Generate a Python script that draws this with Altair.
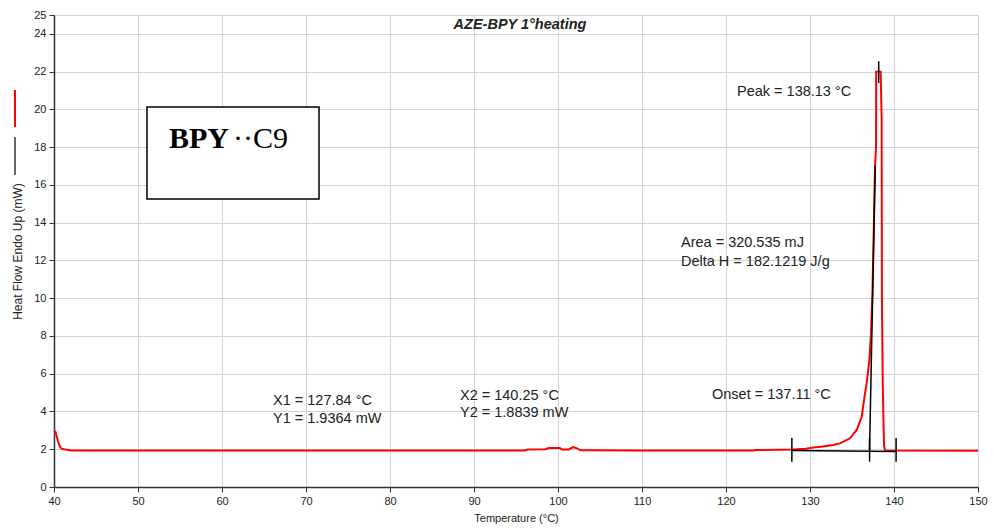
import altair as alt
import pandas as pd

# ---- data ----
temp = [40.0, 40.2, 40.45, 40.7, 40.9, 41.3, 41.6, 42.0, 60.0, 80.0, 96.0, 96.4, 98.5, 98.9,
        100.2, 100.5, 101.3, 101.8, 102.2, 102.7, 110.0, 123.4, 123.5, 128.0, 129.5, 130.4,
        131.5, 132.8, 133.57, 134.76, 135.56, 136.15, 136.55, 136.75, 137.07, 137.26,
        137.42, 137.54, 137.74, 137.86, 137.88, 138.41, 138.53, 138.56, 138.66, 138.81,
        138.93, 150.0]
heat = [3.0, 2.9, 2.45, 2.15, 2.03, 1.99, 1.97, 1.93, 1.93, 1.93, 1.93, 1.99, 2.0, 2.06,
        2.06, 1.99, 1.99, 2.11, 2.06, 1.94, 1.93, 1.93, 1.96, 1.98, 2.03, 2.09,
        2.14, 2.22, 2.31, 2.58, 3.02, 3.72, 4.96, 5.5, 6.73, 8.14,
        10.08, 12.5, 16.97, 18.0, 22.0, 22.0, 19.5, 10.1, 5.5, 2.2,
        1.93, 1.92]

# analysis construction lines (black): id, x, y, x2, y2
seg_id = ["baseline", "tick_x1", "tick_x2", "onset_tick", "tangent", "peak_tick"]
seg_x = [127.84, 127.84, 140.25, 137.09, 137.09, 138.18]
seg_y = [1.9364, 1.34, 1.34, 1.34, 1.95, 21.4]
seg_x2 = [140.25, 127.84, 140.25, 137.09, 137.76, 138.18]
seg_y2 = [1.8839, 2.6, 2.6, 2.6, 17.0, 22.55]

# annotations
ann_text = ["X1 = 127.84 °C", "Y1 = 1.9364 mW", "X2 = 140.25 °C", "Y2 = 1.8839 mW",
            "Area = 320.535 mJ", "Delta H = 182.1219 J/g", "Onset = 137.11 °C",
            "Peak = 138.13 °C"]
ann_x = [66.07, 66.07, 88.33, 88.33, 114.64, 114.64, 118.33, 121.31]
ann_y = [4.57, 3.60, 4.82, 3.92, 12.92, 11.92, 4.87, 20.92]

box_x, box_x2, box_y, box_y2 = [51.07], [71.55], [15.25], [20.13]
label_bold, label_reg = ["BPY"], ["··C9"]
label_x_bold, label_x_reg, label_y = [53.69], [61.3], [17.94]

title_text = "AZE-BPY 1°heating"
x_ticks = [40, 50, 60, 70, 80, 90, 100, 110, 120, 130, 140, 150]
y_ticks = [0, 2, 4, 6, 8, 10, 12, 14, 16, 18, 20, 22, 24, 25]

# ---- frames ----
curve = pd.DataFrame({"T": temp, "H": heat, "i": range(len(temp))})
segs = pd.DataFrame({"id": seg_id, "x": seg_x, "y": seg_y, "x2": seg_x2, "y2": seg_y2})
ann = pd.DataFrame({"t": ann_text, "x": ann_x, "y": ann_y})
box = pd.DataFrame({"x": box_x, "x2": box_x2, "y": box_y, "y2": box_y2})
lab_b = pd.DataFrame({"t": label_bold, "x": label_x_bold, "y": label_y})
lab_r = pd.DataFrame({"t": label_reg, "x": label_x_reg, "y": label_y})

FONT = "Liberation Sans"
xs = alt.Scale(domain=[40, 150], nice=False, zero=False)
ys = alt.Scale(domain=[0, 25], nice=False, zero=False)

xaxis = alt.Axis(values=x_ticks, title="Temperature (°C)", grid=True, gridColor="#d3d3d3",
                 domainColor="#333333", domainWidth=1.5, tickColor="#333333", tickSize=5,
                 labelFont=FONT, labelFontSize=11, labelColor="#222222", labelPadding=3,
                 labelFlush=False, labelOverlap=False,
                 titleFont=FONT, titleFontSize=11, titleFontWeight="normal",
                 titleColor="#222222", titlePadding=6)
yaxis = alt.Axis(values=y_ticks, title="Heat Flow Endo Up (mW)", grid=True, gridColor="#d3d3d3",
                 domainColor="#333333", domainWidth=1.5, tickColor="#333333", tickSize=5,
                 labelFont=FONT, labelFontSize=11, labelColor="#222222", labelPadding=3,
                 labelFlush=False, labelOverlap=False,
                 titleFont=FONT, titleFontSize=12, titleFontWeight="normal",
                 titleColor="#222222", titleAngle=270, titleX=-37, titleY=236,
                 titleAlign="center", titleBaseline="middle")


def X(f):
    return alt.X(f, scale=xs, axis=xaxis)


def Y(f):
    return alt.Y(f, scale=ys, axis=yaxis)


line = alt.Chart(curve).mark_line(color="#ff0000", strokeWidth=2).encode(
    x=X("T:Q"), y=Y("H:Q"), order="i:Q",
)

rules = alt.Chart(segs).mark_rule(color="black", strokeWidth=1.5).encode(
    x=X("x:Q"), y=Y("y:Q"), x2="x2:Q", y2="y2:Q"
)

texts = alt.Chart(ann).mark_text(font=FONT, fontSize=14.5, align="left", baseline="middle",
                                 color="#222222").encode(
    x=X("x:Q"), y=Y("y:Q"), text="t:N"
)

rect = alt.Chart(box).mark_rect(fill="white", stroke="black", strokeWidth=1.5).encode(
    x=X("x:Q"), x2="x2:Q", y=Y("y:Q"), y2="y2:Q"
)
tb = alt.Chart(lab_b).mark_text(font="Liberation Serif", fontSize=30, fontWeight="bold",
                                align="left", baseline="alphabetic", color="black").encode(
    x=X("x:Q"), y=Y("y:Q"), text="t:N"
)
tr = alt.Chart(lab_r).mark_text(font="Liberation Serif", fontSize=30,
                                align="left", baseline="alphabetic", color="black").encode(
    x=X("x:Q"), y=Y("y:Q"), text="t:N"
)

title = alt.Chart(pd.DataFrame({"t": [title_text]})).mark_text(
    font=FONT, fontSize=14.5, fontWeight="bold", fontStyle="italic", align="center",
    baseline="middle", color="#222222"
).encode(x=alt.value(466), y=alt.value(10), text="t:N")

leg_red = alt.Chart(pd.DataFrame({"a": [0]})).mark_rule(color="#ff0000", strokeWidth=2).encode(
    x=alt.value(-39), y=alt.value(75), y2=alt.value(112)
)
leg_blk = alt.Chart(pd.DataFrame({"a": [0]})).mark_rule(color="black", strokeWidth=1.2).encode(
    x=alt.value(-39), y=alt.value(122), y2=alt.value(160)
)

chart = alt.layer(rect, line, rules, texts, tb, tr, title, leg_red, leg_blk).properties(
    width=924, height=472,
    autosize=alt.AutoSizeParams(type="none"),
    padding={"left": 54, "top": 15, "right": 16, "bottom": 41},
    background="white",
).configure_view(stroke=None)

chart.save("out.html", embed_options={"renderer": "svg", "actions": False})
